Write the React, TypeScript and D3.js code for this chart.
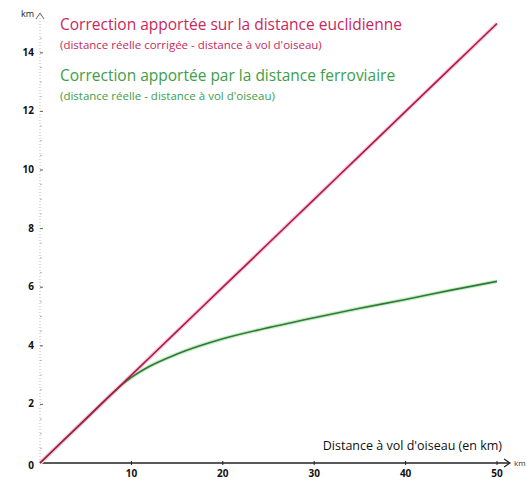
import React from "react";
import * as d3 from "d3";

// Distance à vol d'oiseau (km)
const distances = [0, 5, 8, 9, 10, 12, 15, 20, 25, 30, 35, 40, 45, 50];
// Correction euclidienne (km)
const euclidCorrection = [0, 1.5, 2.4, 2.7, 3.0, 3.6, 4.5, 6.0, 7.5, 9.0, 10.5, 12.0, 13.5, 15.0];
// Correction ferroviaire (km)
const railCorrection = [0, 1.5, 2.4, 2.68, 2.92, 3.3, 3.72, 4.24, 4.62, 4.96, 5.28, 5.58, 5.9, 6.2];

const xTicks = [10, 20, 30, 40, 50];
const yTicks = [0, 2, 4, 6, 8, 10, 12, 14];
const yMinorTicks = d3.range(0.5, 15, 0.5);

const W = 526;
const H = 481;

export default function App() {
  const x = d3.scaleLinear().domain([0, 50]).range([40, 497]);
  const y = d3.scaleLinear().domain([0, 15]).range([463, 23.5]);

  const line = d3
    .line<number>()
    .x((_, i) => x(distances[i]))
    .y((d) => y(d))
    .curve(d3.curveMonotoneX);

  const font = "'Open Sans', 'Liberation Sans', sans-serif";
  const red = "#c8285e";
  const green = "#3e9e48";

  return (
    <svg
      width={W}
      height={H}
      style={{ position: "absolute", left: 0, top: 0, background: "#fff" }}
    >
      {/* vertical axis: dotted line with arrow */}
      <line x1={x(0)} x2={x(0)} y1={y(0)} y2={14} stroke="#aaa" strokeWidth={0.8} strokeDasharray="1,2" />
      <path d={`M${x(0) - 4},${19} L${x(0)},${13} L${x(0) + 4},${19}`} fill="none" stroke="#666" strokeWidth={1} />
      <text x={21} y={17} fontFamily={font} fontSize={9} fill="#222">km</text>
      {yMinorTicks.map((t) => (
        <line key={t} x1={x(0)} x2={x(0) + 2} y1={y(t)} y2={y(t)} stroke="#bbb" strokeWidth={1} />
      ))}
      {yTicks.map((t) => (
        <g key={t}>
          <line x1={x(0)} x2={x(0) + 3} y1={y(t)} y2={y(t)} stroke="#666" strokeWidth={1} />
          <text
            x={x(0) - 6}
            y={y(t) + (t === 0 ? 6 : 3)}
            textAnchor="end"
            fontFamily={font}
            fontSize={10}
            fontWeight="bold"
            fill="#111"
          >
            {t}
          </text>
        </g>
      ))}

      {/* horizontal axis with arrow */}
      <line x1={x(0)} x2={x(50) + 12} y1={y(0)} y2={y(0)} stroke="#222" strokeWidth={1.6} />
      <path d={`M${x(50) + 7},${y(0) - 4} L${x(50) + 13},${y(0)} L${x(50) + 7},${y(0) + 4}`} fill="none" stroke="#222" strokeWidth={1.2} />
      <text x={x(50) + 17} y={y(0) + 3} fontFamily={font} fontSize={8} fill="#333">km</text>
      {xTicks.map((t) => (
        <g key={t}>
          <line x1={x(t)} x2={x(t)} y1={y(0) - 2} y2={y(0) + 2} stroke="#222" strokeWidth={1} />
          <text x={x(t)} y={y(0) + 14} textAnchor="middle" fontFamily={font} fontSize={10} fontWeight="bold" fill="#111">
            {t}
          </text>
        </g>
      ))}
      <text x={502} y={450} textAnchor="end" fontFamily={font} fontSize={12.5} fill="#111">
        Distance à vol d'oiseau (en km)
      </text>

      {/* curves */}
      <path d={line(railCorrection) ?? ""} fill="none" stroke="#c8ecc8" strokeWidth={4} />
      <path d={line(euclidCorrection) ?? ""} fill="none" stroke="#f5ccd9" strokeWidth={4} />
      <path d={line(railCorrection) ?? ""} fill="none" stroke="#2f7a36" strokeWidth={1.6} />
      <path d={line(euclidCorrection) ?? ""} fill="none" stroke="#b01848" strokeWidth={1.6} />

      {/* legend texts */}
      <text x={60} y={30} fontFamily={font} fontSize={15.5} fill={red}>
        Correction apportée sur la distance euclidienne
      </text>
      <text x={60} y={49} fontFamily={font} fontSize={11.5} fill={red}>
        (distance réelle corrigée - distance à vol d'oiseau)
      </text>
      <text x={60} y={81} fontFamily={font} fontSize={15.5} fill={green}>
        Correction apportée par la distance ferroviaire
      </text>
      <text x={60} y={100} fontFamily={font} fontSize={11.5} fill={green}>
        (distance réelle - distance à vol d'oiseau)
      </text>
    </svg>
  );
}
